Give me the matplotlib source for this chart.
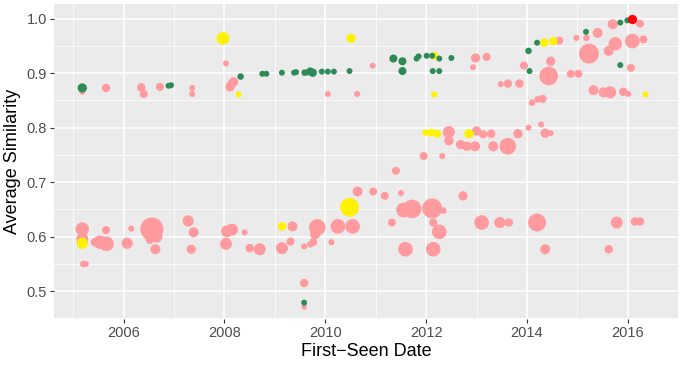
import matplotlib.pyplot as plt
import numpy as np

# decimal year, average similarity, relative bubble weight
pink_x = [2005.18, 2005.65, 2006.35, 2006.40, 2006.72, 2007.36, 2007.36, 2008.03, 2008.18, 2008.11,
          2008.14, 2010.05, 2010.63, 2010.94,
          2012.45, 2012.45, 2012.68, 2012.81, 2012.97, 2013.00, 2013.13, 2013.29, 2013.33, 2013.62,
          2013.82, 2011.95, 2012.32, 2014.03, 2014.28, 2014.36, 2014.47,
          2016.24, 2015.70, 2015.40, 2015.18, 2014.98, 2015.75, 2015.62, 2016.09, 2016.31, 2015.23,
          2016.06, 2014.64, 2014.47, 2014.43, 2013.94, 2012.98, 2013.20, 2012.93, 2014.87, 2015.02,
          2013.48, 2013.62, 2013.85, 2015.32, 2015.52, 2015.65, 2015.91, 2016.01, 2014.10, 2014.21,
          2014.31,
          2005.18, 2005.18, 2005.20, 2005.25, 2005.43, 2005.53, 2005.66, 2005.65, 2006.07, 2006.15,
          2006.56, 2006.65, 2006.52, 2006.63, 2007.28, 2007.39, 2007.34, 2008.05, 2008.15, 2008.03,
          2008.40, 2008.50, 2008.70,
          2009.14, 2009.31, 2009.35, 2009.58, 2009.70, 2009.76, 2009.84, 2009.80, 2010.12, 2010.25,
          2010.54, 2010.64, 2010.95, 2011.18, 2011.50, 2011.40, 2012.73, 2011.32, 2011.55, 2011.72,
          2012.12, 2012.34, 2012.14, 2012.26, 2011.59, 2012.14, 2009.58, 2009.58,
          2013.10, 2013.46, 2013.64, 2014.20, 2014.36, 2015.62, 2015.78, 2016.14, 2016.24]
pink_y = [0.866, 0.873, 0.874, 0.862, 0.875, 0.873, 0.862, 0.918, 0.884, 0.875,
          0.880, 0.862, 0.862, 0.914,
          0.792, 0.776, 0.769, 0.766, 0.766, 0.794, 0.788, 0.789, 0.766, 0.766,
          0.789, 0.748, 0.748, 0.800, 0.806, 0.790, 0.790,
          0.991, 0.990, 0.974, 0.965, 0.965, 0.954, 0.941, 0.959, 0.962, 0.936,
          0.910, 0.960, 0.922, 0.895, 0.914, 0.928, 0.930, 0.911, 0.899, 0.899,
          0.880, 0.881, 0.881, 0.869, 0.865, 0.865, 0.866, 0.862, 0.846, 0.852,
          0.853,
          0.614, 0.596, 0.550, 0.550, 0.590, 0.590, 0.587, 0.612, 0.588, 0.615,
          0.614, 0.600, 0.594, 0.577, 0.629, 0.608, 0.577, 0.610, 0.613, 0.587,
          0.608, 0.579, 0.577,
          0.579, 0.591, 0.619, 0.582, 0.586, 0.590, 0.617, 0.605, 0.590, 0.619,
          0.619, 0.683, 0.683, 0.675, 0.680, 0.721, 0.675, 0.626, 0.649, 0.651,
          0.652, 0.648, 0.626, 0.609, 0.577, 0.577, 0.515, 0.471,
          0.626, 0.626, 0.626, 0.626, 0.577, 0.577, 0.626, 0.628, 0.628]
pink_n = [1, 2, 2, 1.8, 1.8, 1, 1, 1, 2.4, 2.4,
          2.4, 1, 1, 1,
          4, 2.4, 2.4, 2.4, 2.8, 2.4, 1.8, 2, 2.8, 7.7,
          2.4, 1.8, 1, 1, 1, 2.4, 1,
          1.8, 2.8, 2.8, 1.2, 1, 5, 2.8, 6, 1.8, 11,
          1.8, 1.8, 2.4, 9.7, 1.8, 2.4, 1.8, 1, 1.8, 1.8,
          1, 2, 2, 2.8, 2.8, 4, 2, 1, 1.2, 1.2,
          1.8,
          5, 4, 1.2, 1, 2, 5, 6, 1.8, 3.5, 1,
          15, 4, 1.8, 2.8, 3.5, 2.8, 2.4, 4, 4, 4,
          1, 2, 4,
          4, 1.8, 2.8, 1, 1.2, 1.8, 7.7, 3, 1, 6,
          6, 2.8, 1.8, 1.8, 1, 1.8, 2.4, 1.8, 6, 9.7,
          11, 1.2, 1.8, 6, 6, 6, 2, 0.8,
          6, 3.5, 2, 9, 2.8, 2, 4, 2, 2]

green_x = [2005.18, 2006.89, 2006.94, 2008.32, 2008.75, 2008.83, 2009.14, 2009.38, 2009.42, 2009.59,
           2009.66, 2009.75, 2009.70, 2009.93, 2010.05, 2010.17, 2010.48, 2011.35, 2011.53, 2011.53,
           2011.81, 2011.85, 2012.01, 2012.12, 2012.26, 2012.50, 2012.13, 2012.26, 2015.85, 2015.99,
           2015.17, 2014.20, 2014.03, 2014.05, 2015.85, 2009.58]
green_y = [0.873, 0.877, 0.878, 0.894, 0.899, 0.899, 0.901, 0.901, 0.902, 0.901,
           0.902, 0.901, 0.904, 0.903, 0.903, 0.903, 0.904, 0.927, 0.922, 0.904,
           0.927, 0.931, 0.932, 0.932, 0.927, 0.928, 0.904, 0.904, 0.993, 0.997,
           0.976, 0.956, 0.941, 0.904, 0.915, 0.479]
green_n = [2.4, 1, 1, 1.2, 1, 1, 1, 1, 1, 1.2,
           1.2, 2, 1.5, 1, 1, 1, 1, 1.8, 1.8, 1.8,
           1, 1, 1, 1, 1, 1, 1, 1, 1, 1,
           1, 1, 1.2, 1, 1, 1]

yellow_x = [2007.97, 2008.28, 2010.51, 2012.16, 2012.16, 2011.99, 2012.10, 2012.22, 2012.85, 2014.34,
            2014.52, 2016.35, 2005.18, 2009.14, 2010.48]
yellow_y = [0.964, 0.861, 0.964, 0.932, 0.861, 0.791, 0.791, 0.789, 0.789, 0.956,
            0.959, 0.861, 0.588, 0.619, 0.654]
yellow_n = [4.5, 1, 2.4, 1.8, 1, 1.2, 1.8, 1.8, 2.4, 2,
            2, 1, 3.5, 2, 9.7]

red_x = [2016.09]
red_y = [0.999]
red_n = [2.4]

x_ticks = [2006, 2008, 2010, 2012, 2014, 2016]
y_ticks = [0.5, 0.6, 0.7, 0.8, 0.9, 1.0]

PINK = "#FF9A9E"
GREEN = "#2E8B57"
YELLOW = "#FFF200"
RED = "#FF0000"

plt.rcParams["font.family"] = ["Liberation Sans", "DejaVu Sans"]

fig = plt.figure(figsize=(6.93, 3.76), dpi=100)
ax = fig.add_axes([0.078, 0.151, 0.900, 0.839])
ax.set_facecolor("#EBEBEB")


def area(n):
    return 18.5 * np.asarray(n)


for xs, ys, ns, c in [(pink_x, pink_y, pink_n, PINK), (yellow_x, yellow_y, yellow_n, YELLOW),
                      (green_x, green_y, green_n, GREEN), (red_x, red_y, red_n, RED)]:
    ax.scatter(xs, ys, s=area(ns), color=c, linewidths=0, zorder=3)

ax.set_xlim(2004.62, 2016.99)
ax.set_ylim(0.4486, 1.0275)
ax.set_xticks(x_ticks)
ax.set_xticklabels([str(t) for t in x_ticks])
ax.set_yticks(y_ticks)
ax.set_yticklabels([f"{t:.1f}" for t in y_ticks])
ax.set_xticks(np.arange(2005, 2017, 2), minor=True)
ax.set_yticks(np.arange(0.45, 1.0, 0.1), minor=True)

ax.grid(which="major", color="white", linewidth=1.1)
ax.grid(which="minor", color="white", linewidth=0.55)
ax.set_axisbelow(True)
for s in ax.spines.values():
    s.set_visible(False)
ax.tick_params(which="major", length=3, width=0.8, color="#333333",
               labelsize=10.5, labelcolor="#4D4D4D", pad=2)
ax.tick_params(which="minor", length=0)

ax.set_xlabel("First\u2212Seen Date", fontsize=13, labelpad=2)
ax.set_ylabel("Average Similarity", fontsize=13, labelpad=4)

fig.savefig("out.png", dpi=100)
